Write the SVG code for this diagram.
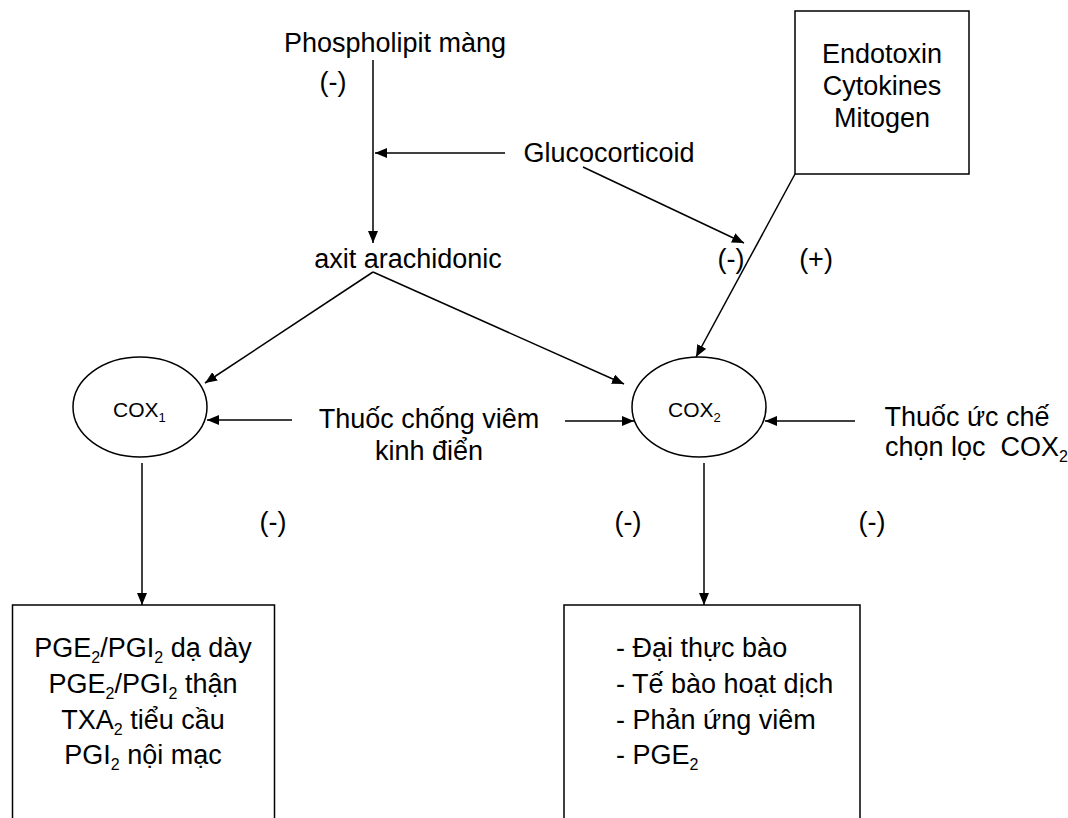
<svg xmlns="http://www.w3.org/2000/svg" width="1068" height="818" viewBox="0 0 1068 818">
<style>
text{font-family:"Liberation Sans",Arial,sans-serif;fill:#000;}
.t{font-size:27px;}
.c{font-size:21px;}
.s{font-size:16px;}
.cs{font-size:13px;}
.ln{stroke:#000;stroke-width:1.5;fill:none;}
.box{stroke:#000;stroke-width:1.5;fill:#fff;}
</style>
<defs>
<marker id="ah" markerUnits="userSpaceOnUse" markerWidth="12" markerHeight="10" refX="12" refY="5" orient="auto">
<path d="M0,0 L12,5 L0,10 Z" fill="#000"/>
</marker>
</defs>
<rect width="1068" height="818" fill="#fff"/>
<g id="connectors">
<line class="ln" x1="373" y1="60" x2="373" y2="243" marker-end="url(#ah)"/>
<line class="ln" x1="505" y1="153" x2="375" y2="153" marker-end="url(#ah)"/>
<line class="ln" x1="583" y1="167" x2="744" y2="243" marker-end="url(#ah)"/>
<line class="ln" x1="795" y1="174" x2="696" y2="357" marker-end="url(#ah)"/>
<line class="ln" x1="373" y1="272" x2="205" y2="383" marker-end="url(#ah)"/>
<line class="ln" x1="373" y1="272" x2="624" y2="384" marker-end="url(#ah)"/>
<line class="ln" x1="292" y1="420" x2="207" y2="420" marker-end="url(#ah)"/>
<line class="ln" x1="565" y1="421" x2="634" y2="421" marker-end="url(#ah)"/>
<line class="ln" x1="855" y1="421" x2="765" y2="421" marker-end="url(#ah)"/>
<line class="ln" x1="142" y1="463" x2="142" y2="605" marker-end="url(#ah)"/>
<line class="ln" x1="704" y1="463" x2="704" y2="605" marker-end="url(#ah)"/>
</g>
<g id="phospholipit"><text class="t" x="395" y="52" text-anchor="middle">Phospholipit màng</text></g>
<g id="minus1"><text class="t" x="333" y="91" text-anchor="middle">(-)</text></g>
<g id="glucocorticoid"><text class="t" x="609" y="162" text-anchor="middle">Glucocorticoid</text></g>
<g id="axit"><text class="t" x="408" y="268" text-anchor="middle">axit arachidonic</text></g>
<g id="endotoxin">
<rect class="box" x="795" y="11" width="174" height="163"/>
<text class="t" x="882" y="63" text-anchor="middle">Endotoxin</text>
<text class="t" x="882" y="95" text-anchor="middle">Cytokines</text>
<text class="t" x="882" y="127" text-anchor="middle">Mitogen</text>
</g>
<g id="minus2"><text class="t" x="731" y="268" text-anchor="middle">(-)</text></g>
<g id="plus"><text class="t" x="816" y="268" text-anchor="middle">(+)</text></g>
<g id="cox1">
<ellipse class="box" cx="140" cy="407" rx="67" ry="50"/>
<text class="c" x="113" y="417">COX<tspan class="cs" dy="5">1</tspan></text>
</g>
<g id="cox2">
<ellipse class="box" cx="699" cy="407" rx="67" ry="50"/>
<text class="c" x="668" y="417">COX<tspan class="cs" dy="5">2</tspan></text>
</g>
<g id="nsaid">
<text class="t" x="429" y="428" text-anchor="middle">Thuốc chống viêm</text>
<text class="t" x="429" y="460" text-anchor="middle">kinh điển</text>
</g>
<g id="coxib">
<text class="t" x="967" y="426" text-anchor="middle">Thuốc ức chế</text>
<text class="t" x="885" y="456">chọn lọc&#160; COX<tspan class="s" dy="6">2</tspan></text>
</g>
<g id="minus3"><text class="t" x="273" y="531" text-anchor="middle">(-)</text></g>
<g id="minus4"><text class="t" x="628" y="531" text-anchor="middle">(-)</text></g>
<g id="minus5"><text class="t" x="872" y="531" text-anchor="middle">(-)</text></g>
<g id="box1">
<rect class="box" x="12.5" y="605" width="262" height="230"/>
<text class="t" x="143" y="657" text-anchor="middle">PGE<tspan class="s" dy="6">2</tspan><tspan dy="-6">/PGI</tspan><tspan class="s" dy="6">2</tspan><tspan dy="-6"> dạ dày</tspan></text>
<text class="t" x="143" y="693" text-anchor="middle">PGE<tspan class="s" dy="6">2</tspan><tspan dy="-6">/PGI</tspan><tspan class="s" dy="6">2</tspan><tspan dy="-6"> thận</tspan></text>
<text class="t" x="143" y="729" text-anchor="middle">TXA<tspan class="s" dy="6">2</tspan><tspan dy="-6"> tiểu cầu</tspan></text>
<text class="t" x="143" y="764" text-anchor="middle">PGI<tspan class="s" dy="6">2</tspan><tspan dy="-6"> nội mạc</tspan></text>
</g>
<g id="box2">
<rect class="box" x="564" y="605" width="296" height="230"/>
<text class="t" x="616" y="657">- Đại thực bào</text>
<text class="t" x="616" y="693">- Tế bào hoạt dịch</text>
<text class="t" x="616" y="729">- Phản ứng viêm</text>
<text class="t" x="616" y="764">- PGE<tspan class="s" dy="6">2</tspan></text>
</g>
</svg>
